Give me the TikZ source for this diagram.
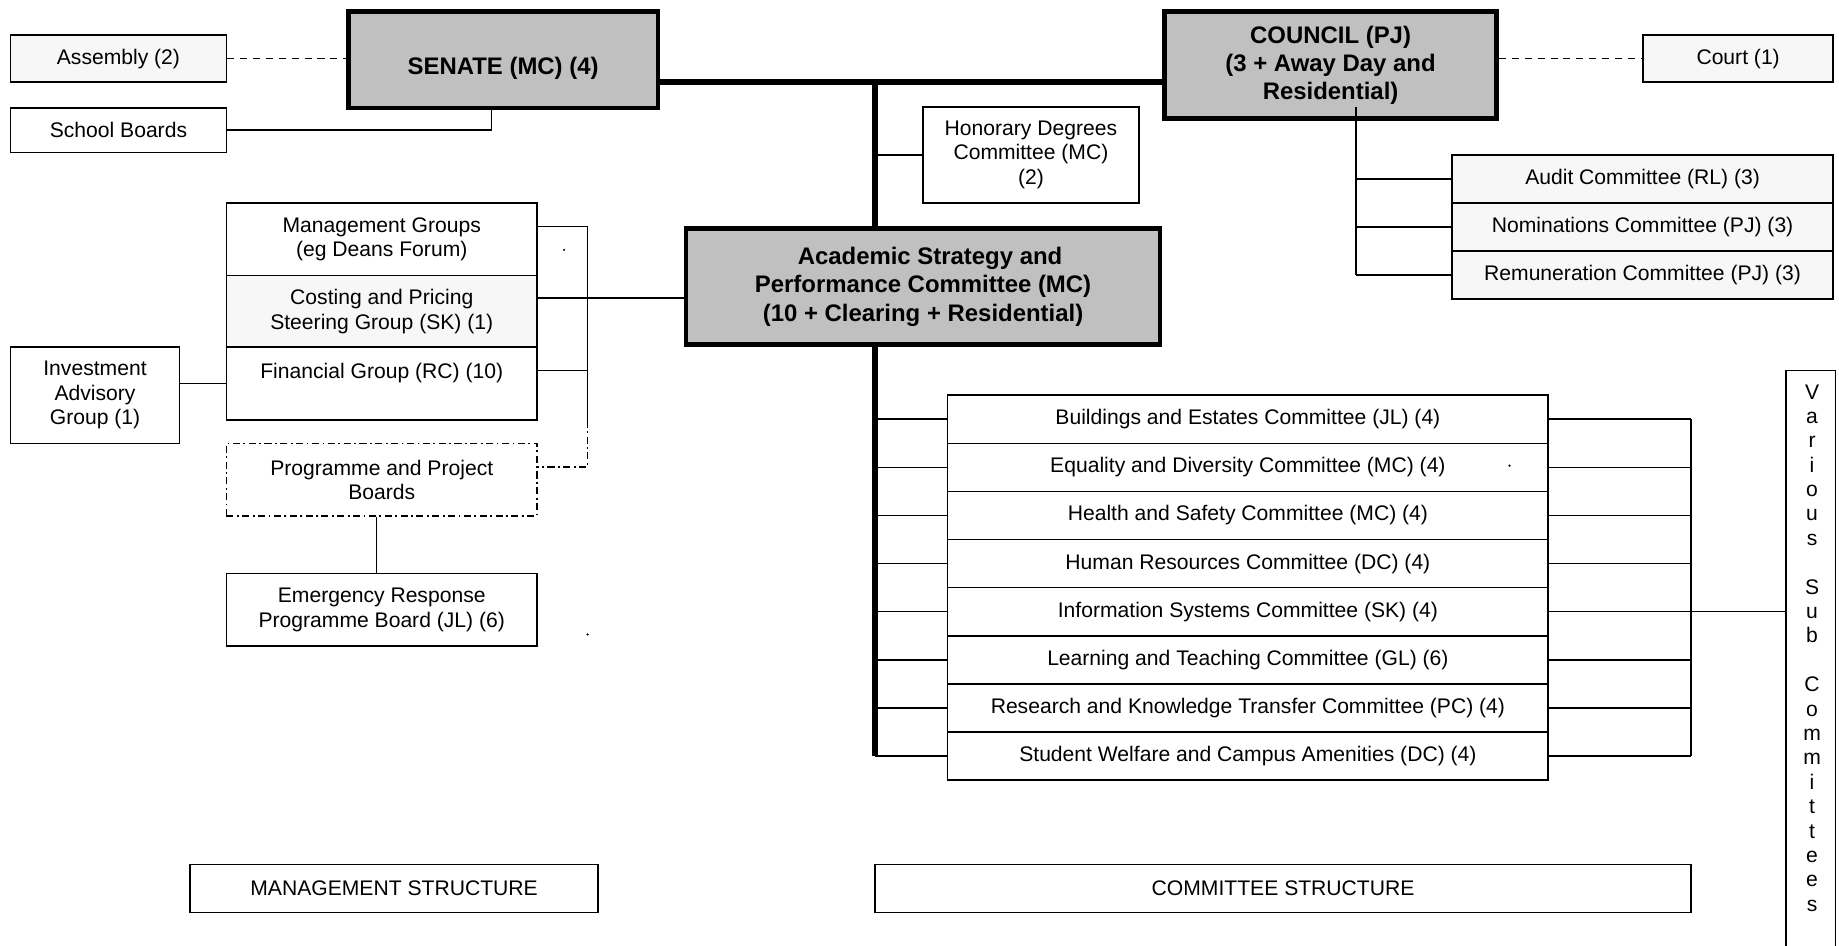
\documentclass[tikz,border=0pt]{standalone}
\usepackage{fontspec}
\setmainfont{Liberation Sans}
\usetikzlibrary{calc}
\definecolor{boxgray}{HTML}{C0C0C0}
\definecolor{lightfill}{HTML}{F7F7F7}
\begin{document}
\begin{tikzpicture}[x=1pt,y=-1pt,
  every node/.style={font=\fontsize{18}{20.8}\selectfont, inner sep=0pt, align=center},
  box/.style={draw, line width=1.4pt, fill=white},
  lbox/.style={box, fill=lightfill},
  mainbox/.style={draw, line width=4pt, fill=boxgray, font=\fontsize{20.4}{24}\selectfont\bfseries},
  conn/.style={line width=1.4pt},
  bus/.style={line width=5pt},
  dashconn/.style={line width=1.4pt, dash pattern=on 6pt off 5pt},
  dashdot/.style={line width=1.4pt, dash pattern=on 6pt off 3pt on 1.5pt off 3pt}]
\useasboundingbox (0,0) rectangle (1568,806);
\fill[white] (0,0) rectangle (1568,806);

% top row
\node[lbox, minimum width=184pt, minimum height=40pt] (asm) at (101,50) {Assembly (2)};
\node[box, minimum width=184pt, minimum height=38pt] (sb) at (101,111) {School Boards};
\node[mainbox, minimum width=264pt, minimum height=82pt] (sen) at (429,51) {\raisebox{-7pt}[\height][\depth]{SENATE (MC) (4)}};
\node[mainbox, minimum width=283pt, minimum height=91pt] (cou) at (1134.5,55.5) {COUNCIL (PJ)\\(3 + Away Day and\\Residential)};
\node[lbox, minimum width=162pt, minimum height=40pt] (court) at (1482,50) {Court (1)};
\node[box, minimum width=184pt, minimum height=82pt] (hon) at (879,132) {Honorary Degrees\\Committee (MC)\\(2)};
\node[mainbox, minimum width=404pt, minimum height=99pt] (asp) at (787,244.5) {\hspace*{12pt}Academic Strategy and\\Performance Committee (MC)\\(10 + Clearing + Residential)};

% council committees
\node[lbox, minimum width=325pt, minimum height=41pt] (au) at (1400.5,152.5) {Audit Committee (RL) (3)};
\node[lbox, minimum width=325pt, minimum height=41pt] (nom) at (1400.5,193.5) {Nominations Committee (PJ) (3)};
\node[lbox, minimum width=325pt, minimum height=41pt] (rem) at (1400.5,234.5) {Remuneration Committee (PJ) (3)};

% management side
\node[box, minimum width=265pt, minimum height=62pt] (mg) at (325.5,204) {Management Groups\\(eg Deans Forum)};
\node[lbox, minimum width=265pt, minimum height=61pt] (cp) at (325.5,265.5) {Costing and Pricing\\Steering Group (SK) (1)};
\node[box, minimum width=265pt, minimum height=62pt] (fg) at (325.5,327) {Financial Group (RC) (10)\\ \mbox{}};
\node[box, minimum width=144pt, minimum height=82pt] (inv) at (81,337) {Investment\\Advisory\\Group (1)};
\node[dashdot, draw, minimum width=265pt, minimum height=62pt] (ppb) at (325.5,409) {Programme and Project\\Boards};
\node[box, minimum width=265pt, minimum height=62pt] (erb) at (325.5,520) {Emergency Response\\Programme Board (JL) (6)};

% committees
\foreach \i/\t in {1/Buildings and Estates Committee (JL) (4),
                   2/Equality and Diversity Committee (MC) (4),
                   3/Health and Safety Committee (MC) (4),
                   4/Human Resources Committee (DC) (4),
                   5/Information Systems Committee (SK) (4),
                   6/Learning and Teaching Committee (GL) (6),
                   7/Research and Knowledge Transfer Committee (PC) (4),
                   8/Student Welfare and Campus Amenities (DC) (4)}
  \node[box, minimum width=512pt, minimum height=41pt] (c\i) at (1064,{357.5+41*(\i-1)}) {\t};

\node[box, minimum width=42pt, minimum height=514pt] (vs) at (1544,573) {};
\node (vst) at (1545,552.5) {V\\a\\r\\i\\o\\u\\s\\ \\S\\u\\b\\ \\C\\o\\m\\m\\i\\t\\t\\e\\e\\s};

\node[box, minimum width=348pt, minimum height=41pt] (ms) at (336,757.5) {MANAGEMENT STRUCTURE};
\node[box, minimum width=696pt, minimum height=41pt] (cs) at (1094,757.5) {COMMITTEE STRUCTURE};

% coordinates
\coordinate (sbx) at (419,0);
\coordinate (busy) at (0,70);
\coordinate (vb) at (746,70);
\coordinate (rb) at (1442,0);
\coordinate (cb) at (1156,91);
\coordinate (mb) at (501,193);
\coordinate (pj) at (501,398);
\coordinate (fy) at (0,316);
\coordinate (cy) at (0,254);
\coordinate (iy) at (0,327);
\coordinate (px) at (321,0);

% connectors
\draw[dashconn] (asm.east) -- (asm.east -| sen.west);
\draw[conn] (sb.east) -| (sbx |- sen.south);
\draw[bus] (sen.east |- busy) -- (cou.west |- busy);
\draw[bus] (vb) -- (vb |- asp.north);
\draw[bus] (vb |- asp.south) -- (vb |- c8.west);
\draw[conn] (vb |- hon.west) -- (hon.west);
\draw[dashconn] (cou.east |- court.west) -- (court.west);
\draw[conn] (cb) -- (cb |- rem.west);
\foreach \n in {au,nom,rem} \draw[conn] (cb |- \n.west) -- (\n.west);

\foreach \i in {1,...,8} {
  \draw[conn] (vb |- c\i.west) -- (c\i.west);
  \draw[conn] (c\i.east) -- (c\i.east -| rb);
}
\draw[conn] (c1.east -| rb) -- (c8.east -| rb);
\draw[conn] (c5.east -| rb) -- (c5.east -| vs.west);

\draw[conn] (mg.east |- mb) -- (mb) -- (mb |- fg.south);
\draw[dashdot] (mb |- fg.south) -- (pj) -- (pj -| ppb.east);
\draw[conn] (fg.east |- fy) -- (mb |- fy);
\draw[conn] (cp.east |- cy) -- (asp.west |- cy);
\draw[conn] (inv.east |- iy) -- (fg.west |- iy);
\draw[conn] (px |- ppb.south) -- (px |- erb.north);

% stray dots
\fill (481,213) circle (1pt);
\fill (501,541) circle (1pt);
\fill (1287,397) circle (1pt);
\end{tikzpicture}
\end{document}
